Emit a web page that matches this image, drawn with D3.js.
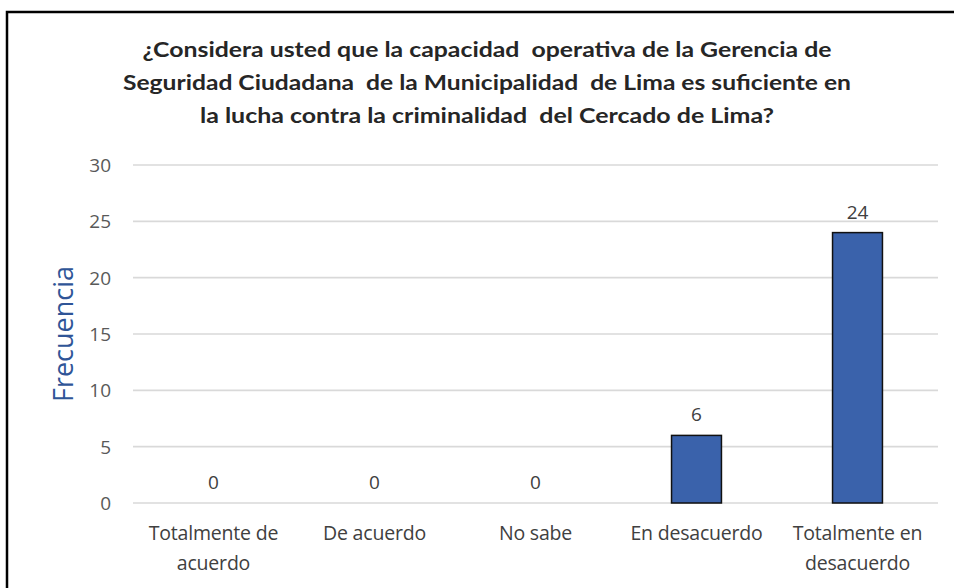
<!DOCTYPE html>
<html><head><meta charset="utf-8">
<script src="https://cdn.jsdelivr.net/npm/d3@7"></script>
<style>html,body{margin:0;background:#fff;overflow:hidden}svg{display:block}</style>
</head><body>
<svg id="c" width="954" height="588"></svg>
<script>
const categories = [["Totalmente de","acuerdo"],["De acuerdo"],["No sabe"],["En desacuerdo"],["Totalmente en","desacuerdo"]];
const values = [0, 0, 0, 6, 24];
const yTicks = [0, 5, 10, 15, 20, 25, 30];
const titleLines = ["¿Considera usted que la capacidad  operativa de la Gerencia de",
  "Seguridad Ciudadana  de la Municipalidad  de Lima es suficiente en",
  "la lucha contra la criminalidad  del Cercado de Lima?"];
const yLabel = "Frecuencia";

const svg = d3.select("#c");
const tfont = "Lato,'Open Sans',sans-serif";
const font = "'Open Sans',sans-serif";
svg.append("path").attr("d","M7,600 V12 H960").attr("fill","none")
  .attr("stroke","#000").attr("stroke-width",2.5);

const x = d3.scaleBand().domain(d3.range(values.length)).range([133,938]).paddingInner(0.69).paddingOuter(0.345);
const y = d3.scaleLinear().domain([0,30]).range([503,165]);

// grid
svg.append("g").selectAll("line").data(yTicks).join("line")
  .attr("x1",133).attr("x2",938).attr("y1",d=>y(d)).attr("y2",d=>y(d))
  .attr("stroke","#d9d9d9").attr("stroke-width",1.6);

// y axis labels
const yAxis = d3.axisLeft(y).tickValues(yTicks).tickSize(0).tickPadding(0);
const ga = svg.append("g").attr("transform","translate(111,0)").call(yAxis);
ga.select(".domain").remove();
ga.selectAll("text").attr("font-family",font).attr("font-size",19).attr("fill","#595959").attr("dy","0.35em");

// bars
svg.append("g").selectAll("rect").data(values).join("rect")
  .attr("x",(d,i)=>x(i)).attr("width",x.bandwidth())
  .attr("y",d=>y(d)).attr("height",d=>y(0)-y(d))
  .attr("fill","#3A62AB").attr("stroke","#111").attr("stroke-width",1.5)
  .style("display",d=>d>0?null:"none");

// data labels
svg.append("g").selectAll("text").data(values).join("text")
  .attr("x",(d,i)=>x(i)+x.bandwidth()/2).attr("y",d=>y(d)-14)
  .attr("text-anchor","middle").attr("font-family",font).attr("font-size",19).attr("fill","#404040")
  .text(d=>d);

// x labels
const xl = svg.append("g").selectAll("text").data(categories).join("text")
  .attr("text-anchor","middle").attr("font-family",font).attr("font-size",19.5).attr("fill","#404040")
  .attr("letter-spacing","-0.2");
xl.selectAll("tspan").data((d,i)=>d.map(t=>({t,i}))).join("tspan")
  .attr("x",d=>x(d.i)+x.bandwidth()/2).attr("y",(d,j)=>540+j*30).text(d=>d.t);

// y title
svg.append("text").attr("transform","translate(73,334) rotate(-90)").attr("text-anchor","middle")
  .attr("font-family",font).attr("font-size",27).attr("fill","#2F5597").text(yLabel);

// title
const tw = [689, 728, 574];
svg.append("g").selectAll("text").data(titleLines).join("text")
  .attr("x",487).attr("y",(d,i)=>57+i*33).attr("text-anchor","middle")
  .attr("font-family",tfont).attr("font-weight","bold").attr("font-size",21).attr("fill","#262626")
  .style("white-space","pre")
  .attr("textLength",(d,i)=>tw[i]).attr("lengthAdjust","spacingAndGlyphs")
  .text(d=>d);
</script>
</body></html>
